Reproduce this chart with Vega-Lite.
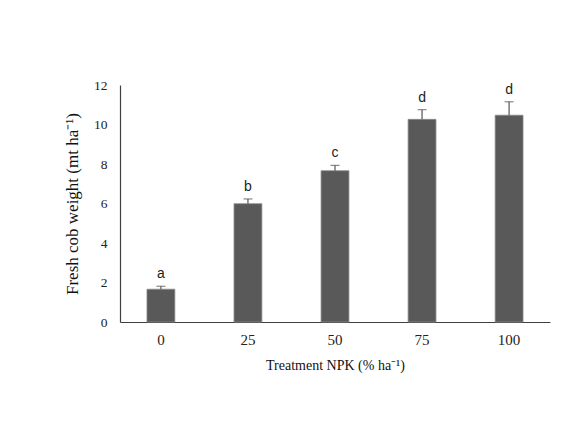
{
  "$schema": "https://vega.github.io/schema/vega-lite/v6.json",
  "autosize": {"type": "none"},
  "padding": {"left": 120, "top": 85, "right": 26, "bottom": 106},
  "width": 430,
  "height": 237,
  "background": "white",
  "config": {"view": {"stroke": null},
    "axisY": {"values": [0, 2, 4, 6, 8, 10, 12], "ticks": false, "grid": false,
      "labelOverlap": false, "domainColor": "#404040", "domainWidth": 1.2,
      "labelFont": "Liberation Serif", "labelFontSize": 13.5, "labelColor": "#222", "labelPadding": 13,
      "titleFont": "Liberation Serif", "titleFontSize": 17, "titleFontWeight": "normal", "titleColor": "#111", "titlePadding": 12}},
  "data": {"values": [
    {"npk": "0", "mean": 1.66, "upper": 1.81, "letter": "a"},
    {"npk": "25", "mean": 5.99, "upper": 6.23, "letter": "b"},
    {"npk": "50", "mean": 7.66, "upper": 7.93, "letter": "c"},
    {"npk": "75", "mean": 10.26, "upper": 10.75, "letter": "d"},
    {"npk": "100", "mean": 10.47, "upper": 11.15, "letter": "d"}
  ]},
  "encoding": {
    "x": {"field": "npk", "type": "ordinal", "sort": null,
      "scale": {"paddingInner": 0.68, "paddingOuter": 0.31},
      "axis": {"title": "Treatment NPK (% ha⁻¹)", "labelAngle": 0, "ticks": false, "grid": false,
        "domainColor": "#404040", "domainWidth": 1.2,
        "labelFont": "Liberation Serif", "labelFontSize": 15, "labelColor": "#222", "labelPadding": 10,
        "titleFont": "Liberation Serif", "titleFontSize": 14, "titleFontWeight": "normal", "titleColor": "#111", "titlePadding": 11}}
  },
  "layer": [
    {"mark": {"type": "bar", "color": "#595959", "stroke": "#8a8a8a", "strokeWidth": 0.8},
      "encoding": {"y": {"field": "mean", "type": "quantitative",
        "scale": {"domain": [0, 12]},
        "axis": {"title": "Fresh cob weight  (mt ha⁻¹)", "values": [0, 2, 4, 6, 8, 10, 12], "labelOverlap": false}}}},
    {"mark": {"type": "rule", "color": "#555", "strokeWidth": 1.2},
      "encoding": {"y": {"field": "mean", "type": "quantitative",
        "axis": {"title": "Fresh cob weight  (mt ha⁻¹)", "values": [0, 2, 4, 6, 8, 10, 12], "labelOverlap": false}}, "y2": {"field": "upper"}}},
    {"mark": {"type": "tick", "color": "#555", "thickness": 1.2, "size": 9},
      "encoding": {"y": {"field": "upper", "type": "quantitative",
        "axis": {"title": "Fresh cob weight  (mt ha⁻¹)", "values": [0, 2, 4, 6, 8, 10, 12], "labelOverlap": false}}}},
    {"mark": {"type": "text", "font": "Liberation Sans", "fontSize": 14, "color": "#222", "baseline": "bottom", "dy": -5},
      "encoding": {"y": {"field": "upper", "type": "quantitative",
        "axis": {"title": "Fresh cob weight  (mt ha⁻¹)", "values": [0, 2, 4, 6, 8, 10, 12], "labelOverlap": false}}, "text": {"field": "letter"}}}
  ]
}
